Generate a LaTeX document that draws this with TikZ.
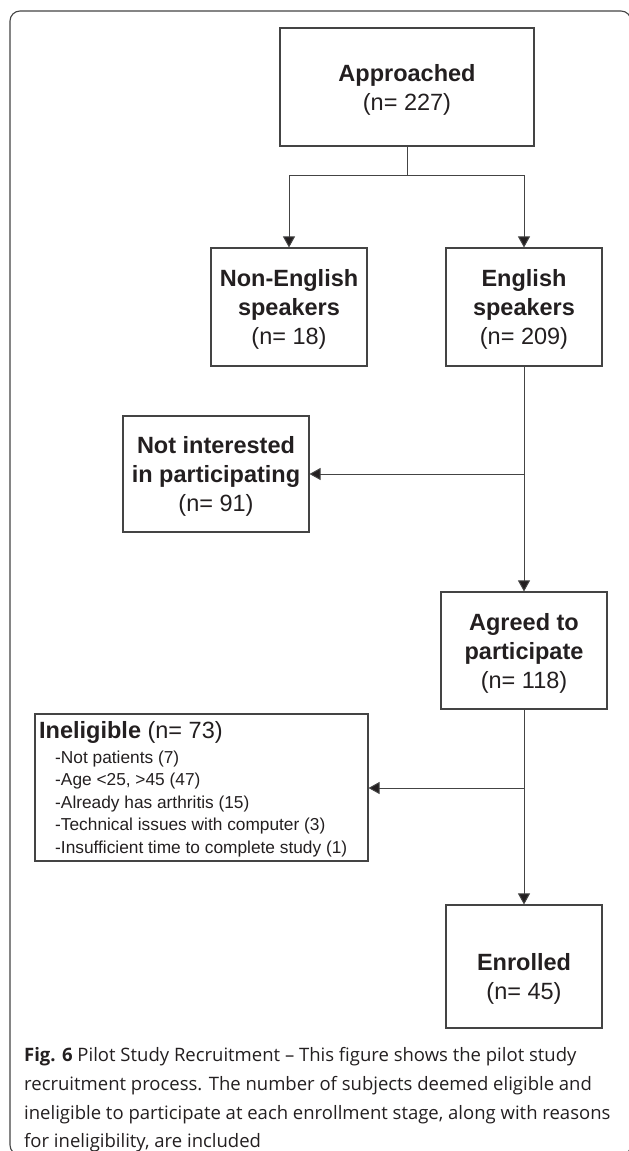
\documentclass[tikz,border=0pt]{standalone}
\usepackage{fontspec}
\setmainfont{Liberation Sans}
\newfontfamily\capfont{Open Sans}
\usetikzlibrary{arrows.meta}
\definecolor{ink}{HTML}{231F20}
\definecolor{linec}{HTML}{444444}
\newcommand{\fl}{\rule{0pt}{22pt}}
\begin{document}
\begin{tikzpicture}[x=1pt,y=-1pt,
  box/.style={draw=linec, line width=1.1pt, inner sep=0pt, align=center,
    font=\fontsize{23.5}{29}\selectfont, text=ink},
  plain/.style={inner sep=0pt, text=ink},
  conn/.style={draw=linec, line width=1pt},
  arr/.style={conn, -{Triangle[length=11pt,width=12pt,fill=ink]}},
  big/.style={font=\fontsize{23.5}{29}\selectfont},
  small/.style={font=\fontsize{17.3}{22}\selectfont},
  captext/.style={plain, anchor=base west, font=\capfont\fontsize{18.5}{29}\selectfont}
]
\useasboundingbox (0,0) rectangle (629,1151);
\clip (0,0) rectangle (629,1151);
\draw[draw=linec, line width=1.1pt, rounded corners=10pt] (10,11) rectangle (631,1155);

\node[box, minimum width=254pt, minimum height=118pt] (appr) at (407,87) {\fl\textbf{Approached}\\(n= 227)};
\node[box, minimum width=156pt, minimum height=118pt] (nonen) at (289,307) {\fl\textbf{Non-English}\\\textbf{speakers}\\(n= 18)};
\node[box, minimum width=156pt, minimum height=118pt] (en) at (524,307) {\fl\textbf{English}\\\textbf{speakers}\\(n= 209)};
\node[box, minimum width=186pt, minimum height=116pt] (notint) at (216,474) {\fl\textbf{Not interested}\\\textbf{in participating}\\(n= 91)};
\node[box, minimum width=166pt, minimum height=117pt] (agreed) at (524,650.5) {\fl\textbf{Agreed to}\\\textbf{participate}\\(n= 118)};
\node[box, minimum width=333pt, minimum height=147pt] (inel) at (201.5,787.5) {};
\node[box, minimum width=156pt, minimum height=123pt] (enr) at (524,966.5) {};

\node[plain, big, align=center] (enrt) at (524,979) {\textbf{Enrolled}\\(n= 45)};

\node[plain, big, anchor=base west] (inelt) at (39,738.4) {\textbf{Ineligible} (n= 73)};
\node[plain, small, anchor=base west] (i1) at (55,763) {-Not patients (7)};
\node[plain, small, anchor=base west] (i2) at (55,785.5) {-Age <25, >45 (47)};
\node[plain, small, anchor=base west] (i3) at (55,808) {-Already has arthritis (15)};
\node[plain, small, anchor=base west] (i4) at (55,830.5) {-Technical issues with computer (3)};
\node[plain, small, anchor=base west] (i5) at (55,853) {-Insufficient time to complete study (1)};

\coordinate (j1) at (407,175);
\coordinate (j2) at (524,474);
\coordinate (j3) at (524,788);
\draw[conn] (appr.south) -- (j1);
\draw[arr] (j1) -| (nonen.north);
\draw[arr] (j1) -| (en.north);
\draw[arr] (en.south) -- (agreed.north);
\draw[arr] (j2) -- (notint.east);
\draw[arr] (agreed.south) -- (enr.north);
\draw[arr] (j3) -- (j3 -| inel.east);

\node[captext] (c1) at (24,1061) {\textbf{Fig. 6} Pilot Study Recruitment – This figure shows the pilot study};
\node[captext] (c2) at (24,1090) {recruitment process. The number of subjects deemed eligible and};
\node[captext] (c3) at (24,1119) {ineligible to participate at each enrollment stage, along with reasons};
\node[captext] (c4) at (24,1147) {for ineligibility, are included};
\end{tikzpicture}
\end{document}
